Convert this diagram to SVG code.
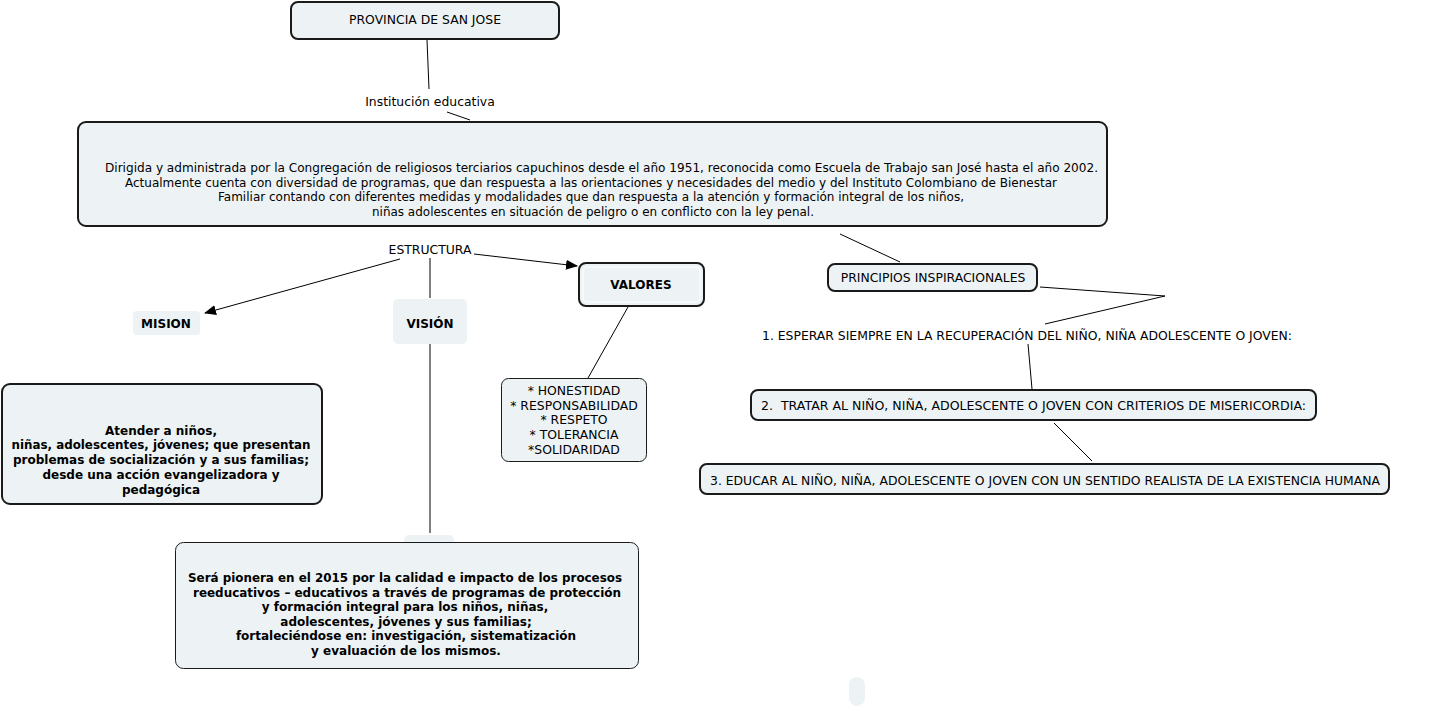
<svg xmlns="http://www.w3.org/2000/svg" width="1444" height="708" viewBox="0 0 1444 708">
<defs>
<style>
text{font-family:"DejaVu Sans","Verdana",sans-serif;font-size:12.4px;fill:#000}
.b{font-weight:bold;font-size:12px}
.m{text-anchor:middle}
.box{fill:#edf3f5;stroke:#1a1a1a;stroke-width:2}
.thin{fill:#edf3f5;stroke:#1a1a1a;stroke-width:1}
.plain{fill:#edf3f5;stroke:none}
.ln{stroke:#000;stroke-width:1;fill:none}
</style>
<marker id="arr" viewBox="0 0 12 10" refX="11" refY="5" markerWidth="12" markerHeight="10" markerUnits="userSpaceOnUse" orient="auto">
<path d="M0,0 L12,5 L0,10 z" fill="#000"/>
</marker>
</defs>
<rect width="1444" height="708" fill="#fff"/>

<g id="connectors">
<line class="ln" x1="427" y1="40" x2="429" y2="89"/>
<line class="ln" x1="447" y1="112" x2="470" y2="120"/>
<line class="ln" x1="400" y1="259" x2="205" y2="313" marker-end="url(#arr)"/>
<line class="ln" x1="474" y1="254" x2="577" y2="266" marker-end="url(#arr)"/>
<line class="ln" x1="430" y1="258" x2="430" y2="298"/>
<line class="ln" x1="430" y1="344" x2="430" y2="533"/>
<line class="ln" x1="628" y1="307" x2="588" y2="378"/>
<line class="ln" x1="840" y1="234" x2="900" y2="262"/>
<polyline class="ln" points="1040,287 1165,296 1045,324"/>
<line class="ln" x1="1028" y1="344" x2="1032" y2="389"/>
<line class="ln" x1="1054" y1="423" x2="1092" y2="461"/>
</g>

<g id="provincia">
<rect class="box" x="291" y="2" width="268" height="37" rx="7"/>
<text class="m" x="425" y="24">PROVINCIA DE SAN JOSE</text>
</g>

<g id="institucion-label">
<text class="m" x="430" y="106">Institución educativa</text>
</g>

<g id="descripcion">
<rect class="box" x="78" y="122" width="1029" height="104" rx="8"/>
<text x="105" y="172" textLength="993" lengthAdjust="spacingAndGlyphs">Dirigida y administrada por la Congregación de religiosos terciarios capuchinos desde el año 1951, reconocida como Escuela de Trabajo san José hasta el año 2002.</text>
<text x="125" y="187" textLength="932" lengthAdjust="spacingAndGlyphs">Actualmente cuenta con diversidad de programas, que dan respuesta a las orientaciones y necesidades del medio y del Instituto Colombiano de Bienestar</text>
<text x="218" y="201" textLength="746" lengthAdjust="spacingAndGlyphs">Familiar contando con diferentes medidas y modalidades que dan respuesta a la atención y formación integral de los niños,</text>
<text x="372" y="216" textLength="442" lengthAdjust="spacingAndGlyphs">niñas adolescentes en situación de peligro o en conflicto con la ley penal.</text>
</g>

<g id="estructura-label">
<text class="m" x="430" y="254">ESTRUCTURA</text>
</g>

<g id="mision">
<rect class="plain" x="133" y="311" width="67" height="24" rx="4"/>
<text class="m b" x="166" y="328">MISION</text>
</g>

<g id="vision">
<rect class="plain" x="393" y="299" width="74" height="45" rx="5"/>
<text class="m b" x="430" y="328">VISIÓN</text>
</g>

<g id="valores">
<rect class="box" x="579" y="263" width="125" height="43" rx="7"/>
<rect x="583" y="267" width="117" height="35" rx="4" fill="none" stroke="#ffffff" stroke-width="1"/>
<text class="m b" x="641" y="289">VALORES</text>
</g>

<g id="valores-lista">
<rect class="thin" x="501.5" y="378.5" width="145" height="83" rx="7"/>
<text class="m" x="574" y="395">* HONESTIDAD</text>
<text class="m" x="574" y="410">* RESPONSABILIDAD</text>
<text class="m" x="574" y="424">* RESPETO</text>
<text class="m" x="574" y="439">* TOLERANCIA</text>
<text class="m" x="574" y="454">*SOLIDARIDAD</text>
</g>

<g id="mision-texto">
<rect class="box" x="2" y="384" width="320" height="120" rx="8"/>
<text class="m b" x="161" y="435">Atender a niños,</text>
<text class="m b" x="161" y="449" textLength="299" lengthAdjust="spacingAndGlyphs">niñas, adolescentes, jóvenes; que presentan</text>
<text class="m b" x="161" y="464" textLength="296" lengthAdjust="spacingAndGlyphs">problemas de socialización y a sus familias;</text>
<text class="m b" x="161" y="479">desde una acción evangelizadora y</text>
<text class="m b" x="161" y="494">pedagógica</text>
</g>

<g id="vision-oculta">
<rect class="plain" x="404" y="535" width="50" height="14" rx="5"/>
</g>

<g id="vision-texto">
<rect class="thin" x="175.5" y="542.5" width="463" height="126" rx="8"/>
<text class="m b" x="405" y="582" textLength="434" lengthAdjust="spacingAndGlyphs">Será pionera en el 2015 por la calidad e impacto de los procesos</text>
<text class="m b" x="407" y="597" textLength="428" lengthAdjust="spacingAndGlyphs">reeducativos – educativos a través de programas de protección</text>
<text class="m b" x="405" y="611">y formación integral para los niños, niñas,</text>
<text class="m b" x="406" y="626">adolescentes, jóvenes y sus familias;</text>
<text class="m b" x="406" y="640">fortaleciéndose en: investigación, sistematización</text>
<text class="m b" x="406" y="655">y evaluación de los mismos.</text>
</g>

<g id="principios">
<rect class="box" x="828" y="264" width="209" height="27" rx="7"/>
<text class="m" x="933" y="282">PRINCIPIOS INSPIRACIONALES</text>
</g>

<g id="principio-1">
<text x="762" y="340" textLength="530" lengthAdjust="spacingAndGlyphs">1. ESPERAR SIEMPRE EN LA RECUPERACIÓN DEL NIÑO, NIÑA ADOLESCENTE O JOVEN:</text>
</g>

<g id="principio-2">
<rect class="box" x="751" y="390" width="565" height="30" rx="7"/>
<text x="761" y="410" textLength="545" lengthAdjust="spacingAndGlyphs" xml:space="preserve">2.  TRATAR AL NIÑO, NIÑA, ADOLESCENTE O JOVEN CON CRITERIOS DE MISERICORDIA:</text>
</g>

<g id="principio-3">
<rect class="box" x="700" y="464" width="689" height="30" rx="7"/>
<text x="710" y="485" textLength="670" lengthAdjust="spacingAndGlyphs">3. EDUCAR AL NIÑO, NIÑA, ADOLESCENTE O JOVEN CON UN SENTIDO REALISTA DE LA EXISTENCIA HUMANA</text>
</g>

<g id="nodo-vacio">
<rect class="plain" x="849" y="677" width="16" height="29" rx="8"/>
</g>
</svg>
